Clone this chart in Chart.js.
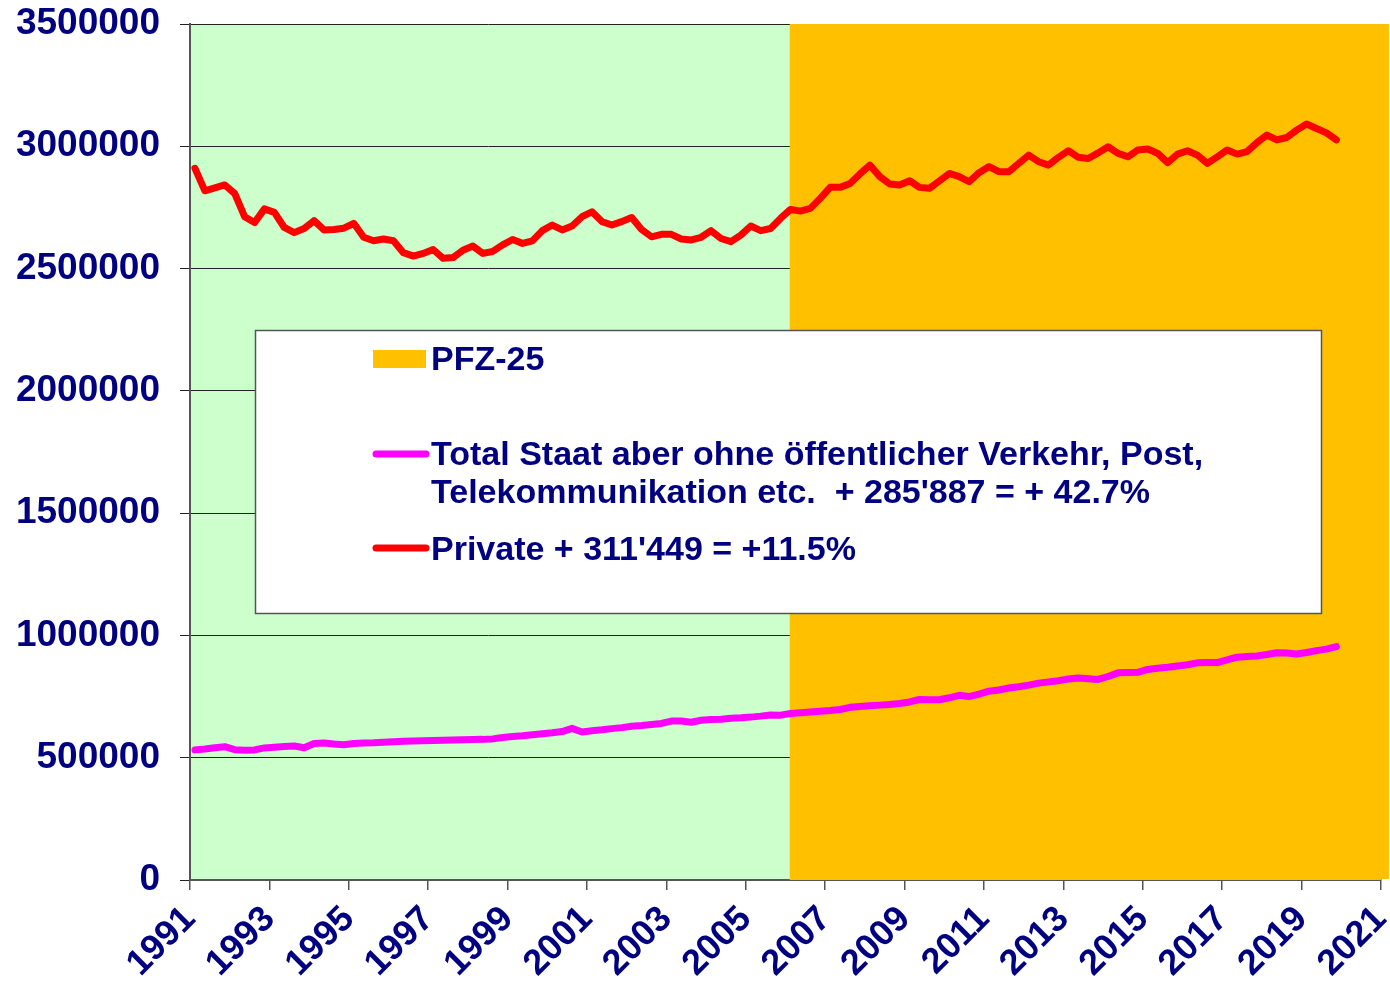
<!DOCTYPE html>
<html>
<head>
<meta charset="utf-8">
<script src="https://cdn.jsdelivr.net/npm/chart.js@4/dist/chart.umd.min.js"></script>
<style>
  body { margin: 0; background: #fff; }
  #wrap { width: 1390px; height: 983px; position: relative; }
</style>
</head>
<body>
<div id="wrap"><canvas id="chart"></canvas></div>
<script>
// DATA (quarterly, 1991 Q1 .. 2019 Q4)
let firstQuarter = 1991.125;

let privateValues = [
  2910000, 2818000, 2830000, 2842000, 2807000, 2712000, 2688000, 2744000,
  2730000, 2668000, 2647000, 2664000, 2696000, 2658000, 2660000, 2665000,
  2685000, 2628000, 2614000, 2621000, 2614000, 2565000, 2551000, 2562000,
  2578000, 2542000, 2545000, 2575000, 2592000, 2562000, 2570000, 2597000,
  2619000, 2603000, 2613000, 2655000, 2678000, 2658000, 2674000, 2712000,
  2732000, 2692000, 2678000, 2692000, 2709000, 2660000, 2630000, 2640000,
  2640000, 2621000, 2617000, 2628000, 2655000, 2623000, 2610000, 2637000,
  2674000, 2655000, 2664000, 2705000, 2742000, 2735000, 2746000, 2787000,
  2832000, 2832000, 2848000, 2887000, 2923000, 2876000, 2846000, 2842000,
  2859000, 2832000, 2828000, 2858000, 2889000, 2876000, 2855000, 2892000,
  2917000, 2896000, 2896000, 2930000, 2964000, 2937000, 2923000, 2955000,
  2982000, 2955000, 2950000, 2973000, 2998000, 2971000, 2957000, 2985000,
  2989000, 2971000, 2933000, 2968000, 2982000, 2964000, 2930000, 2957000,
  2985000, 2968000, 2978000, 3015000, 3046000, 3026000, 3036000, 3066000,
  3091000, 3073000, 3055000, 3026000
];

let staatValues = [
  532000, 536000, 541000, 545000, 533000, 531000, 532000, 540000,
  543000, 546000, 548000, 541000, 558000, 560000, 556000, 553000,
  558000, 560000, 561000, 563000, 565000, 567000, 568000, 569000,
  570000, 571000, 572000, 573000, 574000, 575000, 577000, 583000,
  587000, 590000, 594000, 598000, 602000, 607000, 620000, 605000,
  610000, 614000, 619000, 623000, 629000, 632000, 636000, 640000,
  650000, 650000, 645000, 653000, 656000, 657000, 661000, 663000,
  666000, 670000, 675000, 674000, 681000, 684000, 687000, 690000,
  693000, 697000, 706000, 709000, 712000, 715000, 718000, 722000,
  728000, 738000, 737000, 737000, 745000, 755000, 750000, 760000,
  772000, 777000, 785000, 790000, 797000, 805000, 810000, 815000,
  822000, 826000, 823000, 820000, 832000, 847000, 848000, 849000,
  861000, 866000, 870000, 875000, 880000, 888000, 889000, 889000,
  900000, 911000, 914000, 916000, 922000, 929000, 928000, 924000,
  930000, 938000, 944000, 954000
];

// PFZ-25 period (orange) and y range
let pfzStart = 2006.1;
let pfzEnd = 2021.2;
let yMax = 3500000;

let pfzLabel = "PFZ-25";
let staatLabel = ["Total Staat aber ohne öffentlicher Verkehr, Post,", "Telekommunikation etc.  + 285'887 = + 42.7%"];
let privateLabel = ["Private + 311'449 = +11.5%"];

let navy = "#000080";
let orange = "#FFC000";
let fontName = "'Liberation Sans', Arial, sans-serif";

function toPoints(values) {
  return values.map((v, i) => ({ x: firstQuarter + i * 0.25, y: v }));
}

// GREEN BACKGROUND (under the grid)
let greenBack = {
  id: "greenBack",
  beforeDraw(chart) {
    let a = chart.chartArea;
    let c = chart.ctx;
    c.save();
    c.fillStyle = "#CCFFCC";
    c.fillRect(a.left, a.top, a.right - a.left, a.bottom - a.top);
    c.restore();
  },
  // orange runs a little past the last tick, like the original plot area
  beforeDatasetsDraw(chart) {
    let a = chart.chartArea;
    let x = chart.scales.x;
    let c = chart.ctx;
    let x0 = x.getPixelForValue(x.max);
    let x1 = x.getPixelForValue(pfzEnd);
    c.save();
    c.fillStyle = orange;
    c.fillRect(x0, a.top, x1 - x0, a.bottom - a.top - 1);
    c.restore();
  }
};

// LEGEND BOX
let legendBox = {
  id: "legendBox",
  afterDraw(chart) {
    let c = chart.ctx;
    c.save();
    c.fillStyle = "#fff";
    c.fillRect(255, 330, 1067, 284);
    c.strokeStyle = "#555";
    c.lineWidth = 1.5;
    c.strokeRect(255.5, 330.5, 1066, 283);

    // swatches
    c.fillStyle = orange;
    c.fillRect(373, 350, 53, 18);

    c.lineCap = "round";
    c.lineWidth = 7;
    c.strokeStyle = "#FF00FF";
    c.beginPath(); c.moveTo(376, 454); c.lineTo(426, 454); c.stroke();
    c.strokeStyle = "#FF0000";
    c.beginPath(); c.moveTo(376, 548); c.lineTo(426, 548); c.stroke();

    // texts
    c.fillStyle = navy;
    c.font = "bold 34px " + fontName;
    c.textBaseline = "alphabetic";
    c.fillText(pfzLabel, 431, 370);
    c.fillText(staatLabel[0], 431, 465);
    c.fillText(staatLabel[1], 431, 503);
    c.fillText(privateLabel[0], 431, 560);
    c.restore();
  }
};

let ctx = document.getElementById("chart").getContext("2d");
let chart = new Chart(ctx, {
  type: "line",
  data: {
    datasets: [
      {
        label: privateLabel.join(" "),
        data: toPoints(privateValues),
        borderColor: "#FF0000",
        borderWidth: 7,
        pointRadius: 0,
        borderJoinStyle: "round",
        borderCapStyle: "round",
        tension: 0
      },
      {
        label: staatLabel.join(" "),
        data: toPoints(staatValues),
        borderColor: "#FF00FF",
        borderWidth: 7,
        pointRadius: 0,
        borderJoinStyle: "round",
        borderCapStyle: "round",
        tension: 0
      },
      {
        label: pfzLabel,
        data: [{ x: pfzStart, y: yMax }, { x: pfzEnd, y: yMax }],
        borderWidth: 0,
        borderColor: "rgba(0,0,0,0)",
        backgroundColor: orange,
        fill: "origin",
        pointRadius: 0
      }
    ]
  },
  options: {
    responsive: true,
    maintainAspectRatio: false,
    animation: false,
    layout: { padding: { left: 0, right: 9, top: 24, bottom: 0 } },
    plugins: {
      legend: { display: false },
      tooltip: { enabled: false }
    },
    scales: {
      x: {
        type: "linear",
        min: 1991,
        max: 2021,
        afterFit(scale) {
          scale.height = 103;
          scale.paddingLeft = 0;
          scale.paddingRight = 0;
        },
        grid: { drawOnChartArea: false, drawTicks: true, tickLength: 10, color: "#555", lineWidth: 1.5 },
        border: { display: true, color: "#555", width: 2 },
        ticks: {
          stepSize: 2,
          minRotation: 45,
          maxRotation: 45,
          padding: 8,
          color: navy,
          font: { family: fontName, size: 36, weight: "bold" },
          callback: v => String(v)
        }
      },
      y: {
        min: 0,
        max: yMax,
        afterFit(scale) {
          scale.width = 190;
          scale.paddingTop = 0;
          scale.paddingBottom = 0;
        },
        grid: { color: "#222", lineWidth: 1, tickLength: 10 },
        border: { display: true, color: "#555", width: 2 },
        ticks: {
          stepSize: 500000,
          padding: 20,
          color: navy,
          font: { family: fontName, size: 37, weight: "bold" },
          callback: v => String(v)
        }
      }
    }
  },
  plugins: [greenBack, legendBox]
});
</script>
</body>
</html>
